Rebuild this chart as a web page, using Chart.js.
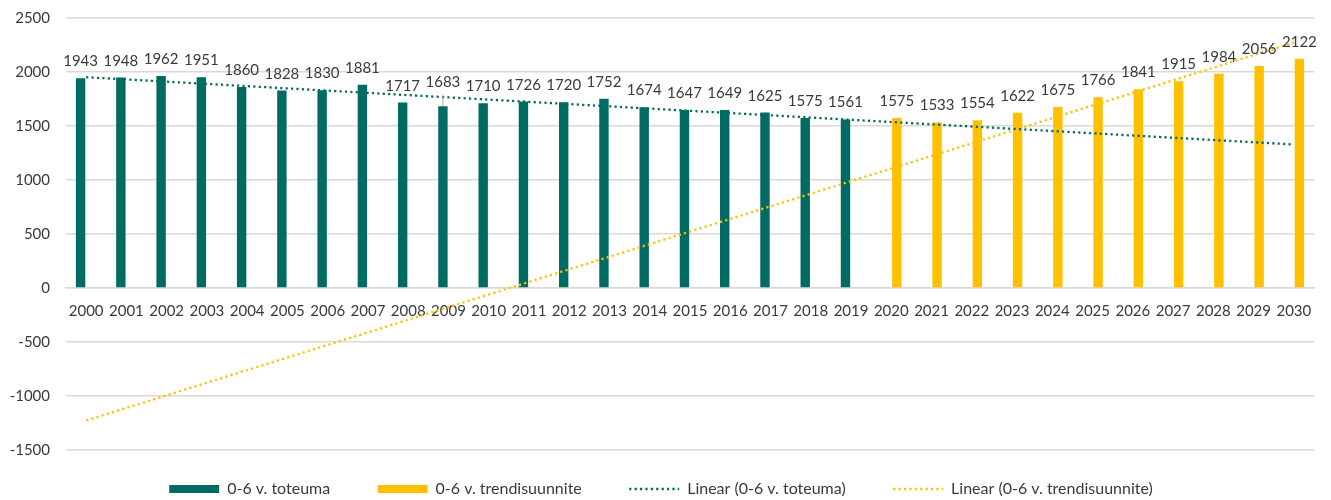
<!DOCTYPE html>
<html>
<head>
<meta charset="utf-8">
<script src="https://cdn.jsdelivr.net/npm/chart.js@4"></script>
<style>
	html, body { margin: 0; padding: 0; background: #fff; overflow: hidden; }
	/* slightly taller than the window so the legend's lower padding falls off-screen */
	.wrap { width: 1331px; height: 507px; }
</style>
</head>
<body>
<div class="wrap"><canvas class="kids-chart"></canvas></div>
<script>
let years = ['2000', '2001', '2002', '2003', '2004', '2005', '2006', '2007', '2008', '2009',
	'2010', '2011', '2012', '2013', '2014', '2015', '2016', '2017', '2018', '2019',
	'2020', '2021', '2022', '2023', '2024', '2025', '2026', '2027', '2028', '2029', '2030']

// 2000-2019
let toteuma = [1943, 1948, 1962, 1951, 1860, 1828, 1830, 1881, 1717, 1683,
	1710, 1726, 1720, 1752, 1674, 1647, 1649, 1625, 1575, 1561]
// 2020-2030
let trendisuunnite = [1575, 1533, 1554, 1622, 1675, 1766, 1841, 1915, 1984, 2056, 2122]

// trend line ends (2000 and 2030)
let trendToteuma = [1952, 1329]
let trendSuunnite = [-1227, 2273]

let teal = '#006B63'
let yellow = '#FFC000'
let textColor = '#3a3a3a'

Chart.defaults.font.family = 'Lato'
Chart.defaults.font.size = 15
Chart.defaults.color = textColor

let toteumaData = toteuma.concat(trendisuunnite.map(() => null))
let suunniteData = toteuma.map(() => null).concat(trendisuunnite)

let barLabels = {
	id: 'barLabels',
	afterDatasetsDraw(chart) {
		let ctx = chart.ctx
		ctx.save()
		ctx.font = '15px Lato'
		ctx.fillStyle = textColor
		ctx.textAlign = 'center'
		ctx.textBaseline = 'alphabetic'
		chart.data.datasets.forEach((ds, di) => {
			if (ds.type !== 'bar') return
			let meta = chart.getDatasetMeta(di)
			meta.data.forEach((bar, i) => {
				let v = ds.data[i]
				if (v === null) return
				let lift = 12
				// the 2009 label sits a bit higher with a leader line
				if (di === 0 && i === 9) {
					lift = 19
					ctx.strokeStyle = '#a6a6a6'
					ctx.lineWidth = 1
					ctx.beginPath()
					ctx.moveTo(bar.x, bar.y - 11)
					ctx.lineTo(bar.x, bar.y)
					ctx.stroke()
				}
				ctx.fillText(String(v), bar.x, bar.y - lift)
			})
		})
		ctx.restore()
	},
}

let chart = new Chart(document.querySelector('.kids-chart'), {
	type: 'bar',
	data: {
		labels: years,
		datasets: [
			{
				type: 'bar',
				label: '0-6 v. toteuma',
				data: toteumaData,
				backgroundColor: teal,
				borderColor: teal,
				categoryPercentage: 0.55,
				barPercentage: 0.85,
				order: 2,
			},
			{
				type: 'bar',
				label: '0-6 v. trendisuunnite',
				data: suunniteData,
				backgroundColor: yellow,
				borderColor: yellow,
				categoryPercentage: 0.55,
				barPercentage: 0.85,
				order: 2,
			},
			{
				type: 'line',
				label: 'Linear (0-6 v. toteuma)',
				data: [{ x: years[0], y: trendToteuma[0] }, { x: years[years.length - 1], y: trendToteuma[1] }],
				borderColor: teal,
				borderWidth: 2.3,
				borderDash: [2.2, 3.2],
				pointRadius: 0,
				order: 1,
			},
			{
				type: 'line',
				label: 'Linear (0-6 v. trendisuunnite)',
				data: [{ x: years[0], y: trendSuunnite[0] }, { x: years[years.length - 1], y: trendSuunnite[1] }],
				borderColor: yellow,
				borderWidth: 2.3,
				borderDash: [2.2, 3.2],
				pointRadius: 0,
				order: 1,
			},
		],
	},
	options: {
		responsive: true,
		maintainAspectRatio: false,
		animation: false,
		layout: {
			padding: { top: 18, left: 8, right: 17, bottom: 0 },
		},
		scales: {
			x: {
				position: { y: 0 },
				grid: { display: false },
				border: { display: true, color: '#d9d9d9', width: 1.5 },
				ticks: { padding: 6, color: textColor, maxRotation: 0, autoSkip: false },
			},
			y: {
				min: -1500,
				max: 2500,
				ticks: {
					stepSize: 500,
					padding: 16,
					color: textColor,
					callback: function (value) {
						return String(value)
					},
				},
				grid: { color: '#d9d9d9', lineWidth: 1.5, drawTicks: false },
				border: { display: false },
				afterFit: function (scale) {
					scale.width = 58
					// tick padding is otherwise added above the top label too
					scale.paddingTop = 0
				},
			},
		},
		plugins: {
			tooltip: { enabled: false },
			legend: {
				position: 'bottom',
				labels: {
					usePointStyle: true,
					pointStyleWidth: 50,
					boxHeight: 8,
					padding: 31,
					color: textColor,
					font: { size: 16 },
					generateLabels: function (chart) {
						let sets = chart.data.datasets
						return sets.map(function (ds, i) {
							let isLine = ds.type === 'line'
							return {
								// trailing spaces widen the gap between legend items
								text: ds.label + (i < sets.length - 1 ? '    ' : ''),
								fillStyle: isLine ? 'rgba(0,0,0,0)' : ds.backgroundColor,
								strokeStyle: ds.borderColor,
								lineWidth: isLine ? 2.3 : 0,
								lineDash: isLine ? ds.borderDash : [],
								pointStyle: isLine ? 'line' : 'rect',
								fontColor: textColor,
								hidden: false,
								datasetIndex: i,
							}
						})
					},
				},
			},
		},
	},
	plugins: [barLabels],
})
</script>
</body>
</html>
